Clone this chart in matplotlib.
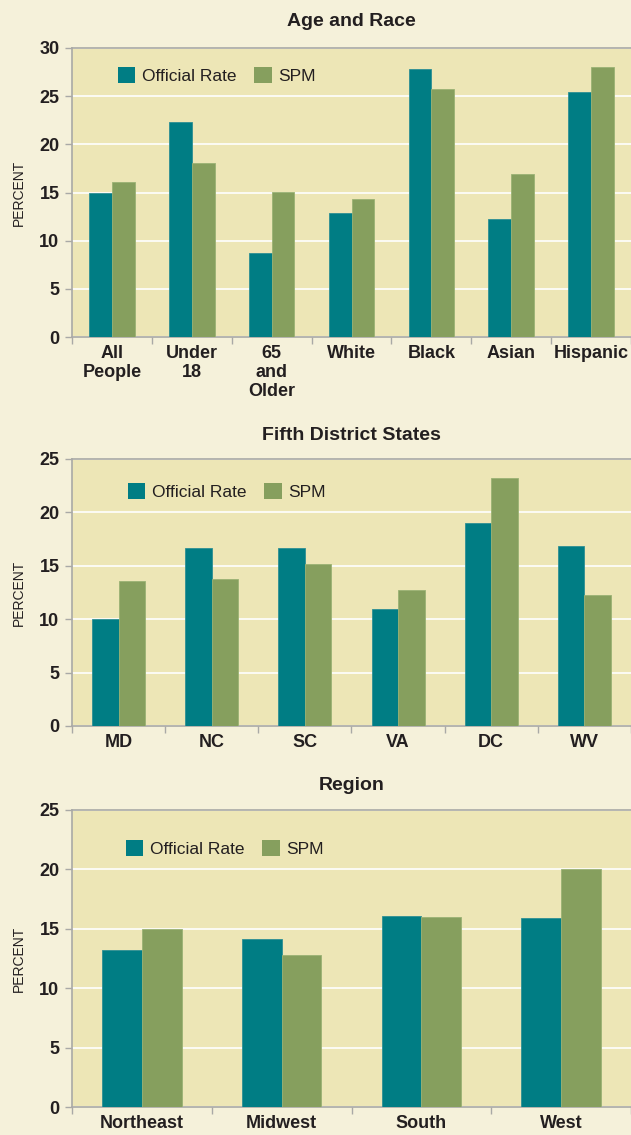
import matplotlib
matplotlib.use("Agg")
import matplotlib.pyplot as plt
import numpy as np
from matplotlib.patches import Patch

plt.rcParams['font.family'] = ['Liberation Sans Narrow', 'Liberation Sans', 'DejaVu Sans']

# ---- data ----
age_cats = ["All\nPeople", "Under\n18", "65\nand\nOlder", "White", "Black", "Asian", "Hispanic"]
age_official = [15.0, 22.3, 8.7, 12.9, 27.8, 12.3, 25.4]
age_spm = [16.1, 18.1, 15.1, 14.3, 25.7, 16.9, 28.0]

state_cats = ["MD", "NC", "SC", "VA", "DC", "WV"]
state_official = [10.0, 16.7, 16.7, 11.0, 19.0, 16.9]
state_spm = [13.6, 13.8, 15.2, 12.7, 23.2, 12.3]

region_cats = ["Northeast", "Midwest", "South", "West"]
region_official = [13.2, 14.1, 16.1, 15.9]
region_spm = [15.0, 12.8, 16.0, 20.0]

titles = ["Age and Race", "Fifth District States", "Region"]
ymaxes = [30, 25, 25]
series_names = ["Official Rate", "SPM"]

TEAL = "#007D84"
GREEN = "#869F5E"
FIG_BG = "#F5F1DA"
AX_BG = "#EDE6B6"
SPINE = "#A9A9A6"
TXT = "#231F20"

W, H = 631, 1135
fig = plt.figure(figsize=(W / 100, H / 100), dpi=100, facecolor=FIG_BG)

# axes boxes in pixels: (top, bottom)
boxes = [(48, 337), (459, 726), (810, 1107)]
left_px = 72
legend_pos = [(118, 67), (128, 483), (126, 840)]
title_y = [22, 436, 785]

datasets = [
    (age_cats, age_official, age_spm),
    (state_cats, state_official, state_spm),
    (region_cats, region_official, region_spm),
]

for k, ((cats, off, spm), (top, bot)) in enumerate(zip(datasets, boxes)):
    ax = fig.add_axes([left_px / W, 1 - bot / H, 1 - left_px / W, (bot - top) / H])
    ax.set_facecolor(AX_BG)
    n = len(cats)
    x = np.arange(n)
    w = 0.285
    ax.bar(x - w / 2, off, w, color=TEAL, edgecolor="#2E8F94", linewidth=0.6, zorder=3)
    ax.bar(x + w / 2, spm, w, color=GREEN, edgecolor="#9AB274", linewidth=0.6, zorder=3)
    ax.set_xlim(-0.5, n - 0.5)
    ax.set_ylim(0, ymaxes[k])
    ax.set_yticks(np.arange(0, ymaxes[k] + 1, 5))
    ax.yaxis.grid(True, color="white", linewidth=1.2, zorder=1)
    ax.set_axisbelow(True)
    ax.set_xticks(x)
    ax.set_xticklabels(cats, fontsize=13, fontweight="bold", color=TXT, linespacing=1.15)
    ax.tick_params(axis="x", which="major", length=0, pad=6)
    ax.set_xticks(np.arange(-0.5, n, 1.0), minor=True)
    ax.tick_params(axis="x", which="minor", length=5, color=SPINE, width=1)
    ax.tick_params(axis="y", length=5, color=SPINE, width=1, labelsize=13, labelcolor=TXT, pad=4)
    for lab in ax.get_yticklabels():
        lab.set_fontweight("bold")
    for s in ["left", "bottom", "top"]:
        ax.spines[s].set_color(SPINE)
        ax.spines[s].set_linewidth(1.2)
    ax.spines["right"].set_visible(False)
    ax.set_ylabel("PERCENT", fontsize=10, color=TXT)
    ax.yaxis.set_label_coords(-46 / (W - left_px), 0.5)

    fig.text((left_px + W) / 2 / W, 1 - title_y[k] / H, titles[k], ha="center", va="center",
             fontsize=14, fontweight="bold", color=TXT)

    lx, ly = legend_pos[k]
    handles = [Patch(facecolor=TEAL, edgecolor="none"), Patch(facecolor=GREEN, edgecolor="none")]
    leg = ax.legend(handles, series_names, loc="upper left",
                    bbox_to_anchor=((lx - left_px) / (W - left_px), (bot - ly) / (bot - top)),
                    ncol=2, frameon=False, fontsize=12.5, handlelength=1.0, handleheight=1.0,
                    handletextpad=0.4, columnspacing=1.0, borderpad=0, borderaxespad=0)
    for t in leg.get_texts():
        t.set_color(TXT)

fig.savefig("out.png", dpi=100, facecolor=FIG_BG)
